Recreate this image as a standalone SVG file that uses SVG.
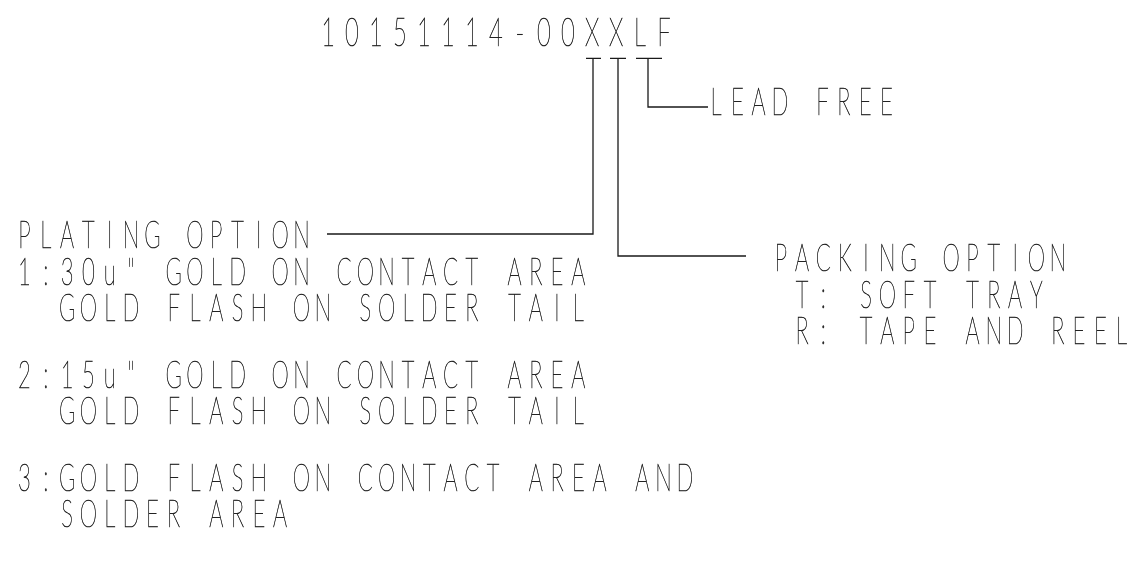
<svg xmlns="http://www.w3.org/2000/svg" width="1131" height="565" viewBox="0 0 1131 565">
<defs>
  <filter id="gray" x="0" y="0" width="1131" height="565" filterUnits="userSpaceOnUse">
    <feColorMatrix type="saturate" values="0"/>
  </filter>
</defs>
<style>
  text { font-family: Lato, "DejaVu Sans", sans-serif; font-weight: 200; fill: #222222; stroke: #222222; stroke-width: 0.7; text-anchor: middle; }
  .t { font-size: 39.5px; }
  .s { font-size: 37.3px; }
  .ln { stroke: #1a1a1a; stroke-width: 1.3; fill: none; }
</style>
<rect width="1131" height="565" fill="#ffffff"/>
<g filter="url(#gray)">
<g id="part-number" transform="translate(328,0) scale(0.6,1)">
  <text class="t" y="46.5" x="0 40 80 120 160 200 240 280 320 360 400 440 480 520 560">10151114-00XXLF</text>
</g>
<g id="lead-free" transform="translate(716,0) scale(0.5917,1)">
  <text class="s" y="115" x="0 36 72 108 144 180 216 252 288">LEAD FREE</text>
</g>
<g id="plating-option" transform="translate(24.5,0) scale(0.5917,1)">
  <text class="s" y="248.5" x="0 36 72 108 144 180 216 252 288 324 360 396 432 468">PLATING OPTION</text>
  <text class="s" y="285" x="0 36 72 108 144 180 216 252 288 324 360 396 432 468 504 540 576 612 648 684 720 756 792 828 864 900 936">1:30u" GOLD ON CONTACT AREA</text>
  <text class="s" y="321.5" x="72 108 144 180 216 252 288 324 360 396 432 468 504 540 576 612 648 684 720 756 792 828 864 900 936">GOLD FLASH ON SOLDER TAIL</text>
  <text class="s" y="388" x="0 36 72 108 144 180 216 252 288 324 360 396 432 468 504 540 576 612 648 684 720 756 792 828 864 900 936">2:15u" GOLD ON CONTACT AREA</text>
  <text class="s" y="424.5" x="72 108 144 180 216 252 288 324 360 396 432 468 504 540 576 612 648 684 720 756 792 828 864 900 936">GOLD FLASH ON SOLDER TAIL</text>
  <text class="s" y="491" x="0 36 72 108 144 180 216 252 288 324 360 396 432 468 504 540 576 612 648 684 720 756 792 828 864 900 936 972 1008 1044 1080 1116">3:GOLD FLASH ON CONTACT AREA AND</text>
  <text class="s" y="527.5" x="72 108 144 180 216 252 288 324 360 396 432">SOLDER AREA</text>
</g>
<g id="packing-option" transform="translate(780.8,0) scale(0.5917,1)">
  <text class="s" y="271.5" x="0 36 72 108 144 180 216 252 288 324 360 396 432 468">PACKING OPTION</text>
  <text class="s" y="308" x="36 72 108 144 180 216 252 288 324 360 396 432">T: SOFT TRAY</text>
  <text class="s" y="344.5" x="36 72 108 144 180 216 252 288 324 360 396 432 468 504 540 576">R: TAPE AND REEL</text>
</g>
</g>
<g id="connectors">
  <path class="ln" d="M586,58.3 H601 M593,58.3 V234 H327"/>
  <path class="ln" d="M610,58.3 H626 M618,58.3 V256 H746"/>
  <path class="ln" d="M636,58.3 H662 M648,58.3 V107 H708"/>
</g>
</svg>
